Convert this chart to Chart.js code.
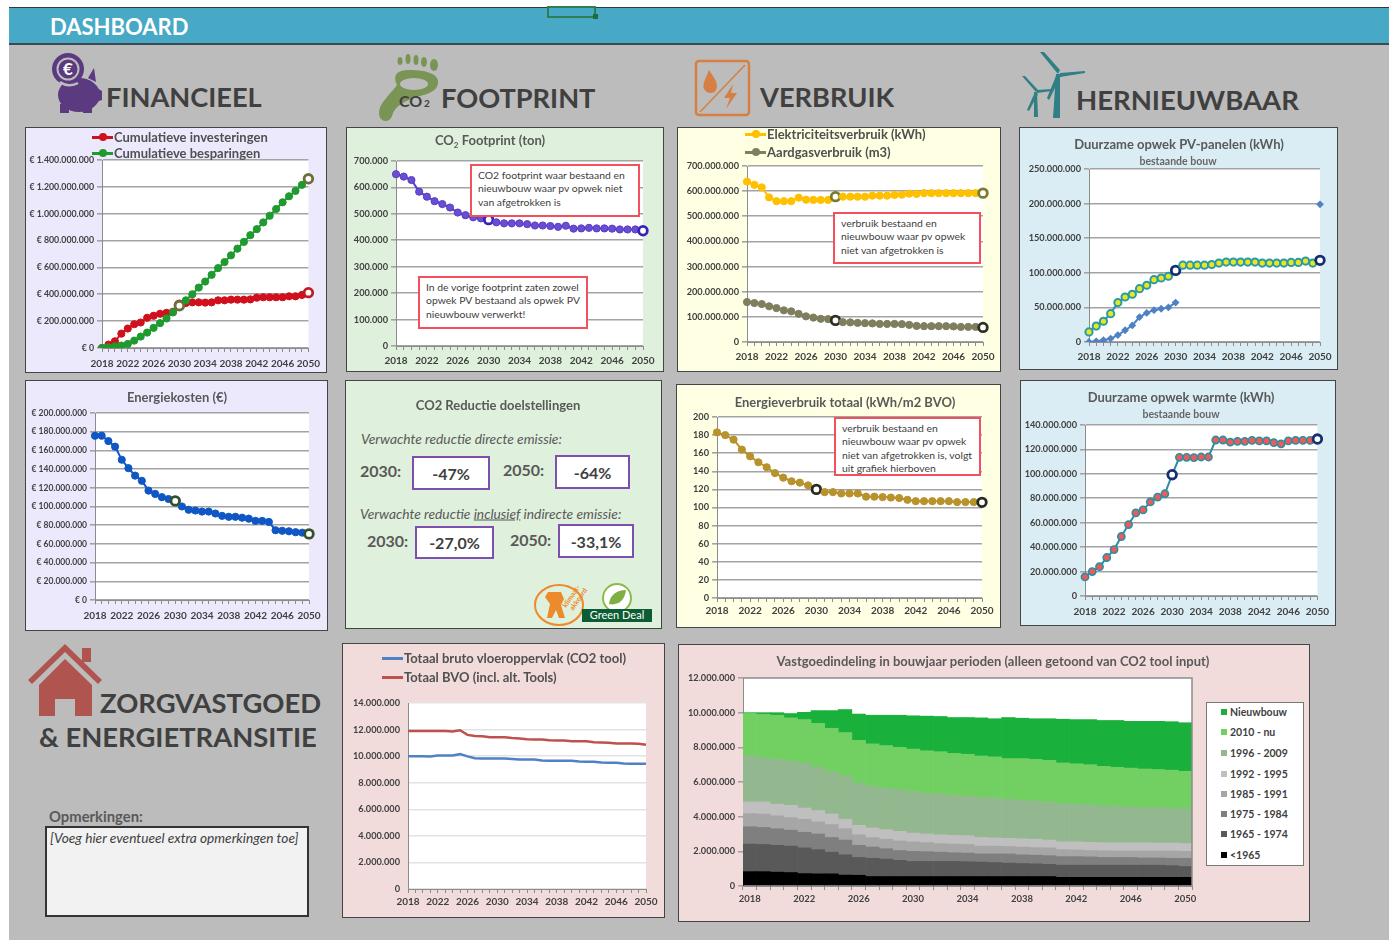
<!DOCTYPE html>
<html lang="nl">
<head>
<meta charset="utf-8">
<title>Dashboard</title>
<script src="https://cdn.jsdelivr.net/npm/chart.js@4"></script>
<style>
  html, body { margin: 0; padding: 0; background: #fff; }
  body { width: 1389px; height: 940px; overflow: hidden; font-family: Lato, "Open Sans", sans-serif; }
  #page { position: absolute; left: 0; top: 0; width: 1389px; height: 940px; filter: blur(0.7px); }
  #sheet { position: absolute; left: 9px; top: 7px; width: 1380px; height: 933px; background: #bcbcbc; }
  #bar { position: absolute; left: 9px; top: 7px; width: 1380px; height: 38px; background: #47a9c5;
         border-top: 1px solid #2c3b42; border-bottom: 2px solid #3a4a50; box-sizing: border-box; }
  .panel { position: absolute; box-shadow: 0 0 0 1px #444; }
  .panel canvas { position: absolute; left: 0; top: 0; }
  .txt { position: absolute; white-space: nowrap; transform: translateY(-50%); }
  .note { position: absolute; box-sizing: border-box; background: #fff; border: 2px solid #f2505a; white-space: nowrap;
          font-size: 10.4px; line-height: 13.3px; color: #404040; padding: 3px 6px; }
  .kpi { position: absolute; box-sizing: border-box; background: #fff; border: 2.5px solid #7d4fb0;
         font-size: 16px; font-weight: 700; color: #404040; text-align: center; }
  .swatch { position: absolute; height: 3px; }
  .dot { position: absolute; border-radius: 50%; }
  svg { position: absolute; left: 0; top: 0; }
</style>
</head>
<body>
<div id="page">
  <div id="sheet"></div>
  <div id="bar"></div>
  <div style="position:absolute;left:547px;top:6px;width:49px;height:12px;border:2px solid #2f7d55;box-sizing:border-box"></div>
  <div style="position:absolute;left:593px;top:14px;width:5px;height:5px;background:#1d6b42"></div>
  <div id="reductie" class="panel" style="left:346px;top:381px;width:315px;height:247px;background:#dff0dc"></div>
  <svg width="1389" height="940" viewBox="0 0 1389 940">
    <!-- spaarvarken -->
    <g fill="#5c3a80">
      <ellipse cx="79" cy="95" rx="21" ry="17"/>
      <path d="M88 78 l6 -10 l2 14 z"/>
      <path d="M97 88 l5 3 v9 l-6 2 z"/>
      <rect x="60" y="104" width="9" height="9"/><rect x="83" y="104" width="9" height="9"/>
      <circle cx="68" cy="69" r="16"/>
    </g>
    <circle cx="68" cy="69" r="10.5" fill="none" stroke="#bcbcbc" stroke-width="2"/>
    <path d="M60 82 a16 16 0 0 0 18 1" fill="none" stroke="#bcbcbc" stroke-width="2.5"/>
    <text x="68" y="75" text-anchor="middle" font-family="Lato" font-size="17" font-weight="700" fill="#fff">€</text>
    <!-- voetafdruk -->
    <g fill="#7a9455">
      <path d="M397 85 C392 74 398 70 410 70 C424 70 440 73 438 84 C436 92 427 94 420 96 C406 100 394 106 392 116 C389 124 379 122 379 113 C379 103 389 96 397 85 Z"/>
      <ellipse cx="400" cy="61" rx="2.5" ry="4"/><ellipse cx="408" cy="59" rx="2.5" ry="5"/>
      <ellipse cx="416" cy="60" rx="2.5" ry="5"/><ellipse cx="424" cy="62" rx="3" ry="5"/><ellipse cx="434" cy="65" rx="4" ry="6"/>
    </g>
    <ellipse cx="414" cy="84" rx="14" ry="6" fill="#bcbcbc"/>
    <text x="399" y="107" font-family="Lato" font-size="16" font-weight="700" fill="#404040">CO</text>
    <text x="424" y="107" font-family="Lato" font-size="10" font-weight="700" fill="#404040">2</text>
    <!-- gas en stroom -->
    <rect x="696" y="61" width="53" height="54" rx="3" fill="none" stroke="#d67f42" stroke-width="2.5"/>
    <line x1="700" y1="112" x2="745" y2="65" stroke="#d67f42" stroke-width="1.5"/>
    <path d="M709 70 C714 78 719 83 716 90 C714 94 707 94 704 89 C702 84 706 78 709 70 Z" fill="#d67f42"/>
    <path d="M733 84 L724 98 L730 98 L726 109 L737 93 L731 93 Z" fill="#d67f42"/>
    <!-- windmolens -->
    <g fill="#2f7f85">
      <path d="M1056 74 L1060 74 L1060 118 L1053 118 Z"/>
      <path d="M1058 74 L1040 52 L1044 52 L1060 70 Z"/>
      <path d="M1060 73 L1085 71 L1085 73 L1060 77 Z"/>
      <path d="M1056 76 L1047 98 L1049 100 L1060 78 Z"/>
      <path d="M1034 92 L1037 92 L1038 117 L1034 117 Z"/>
      <path d="M1036 92 L1022 76 L1025 76 L1038 90 Z"/>
      <path d="M1037 90 L1052 89 L1052 91 L1037 93 Z"/>
      <path d="M1035 92 L1027 110 L1029 111 L1038 94 Z"/>
    </g>
    <!-- huis -->
    <g fill="#b05450">
      <path d="M28 680 L65 644 L102 680 L98 684 L65 652 L32 684 Z"/>
      <path d="M39 685 L65 659 L92 685 V716 H75 V699 H55 V716 H39 Z"/>
      <rect x="82" y="648" width="9" height="14"/>
    </g>
    <!-- klimaatakkoord en green deal -->
    <ellipse cx="559" cy="605" rx="24" ry="20" fill="none" stroke="#ec8a2d" stroke-width="2"/>
    <path d="M548 592 h13 l3 7 l-3 6 l4 13 h-6 l-3 -8 l-4 8 h-5 l3 -14 l-5 -7 z" fill="#ec8a2d"/>
    <text transform="translate(566 608) rotate(-55)" font-family="Lato" font-size="7" font-weight="700" fill="#ec8a2d">klimaat-</text>
    <text transform="translate(573 611) rotate(-55)" font-family="Lato" font-size="7" font-weight="700" fill="#ec8a2d">akkoord</text>
    <circle cx="617" cy="598" r="14" fill="#fff" stroke="#8bbb4e" stroke-width="2"/>
    <path d="M609 604 C610 594 618 590 626 590 C625 600 618 606 609 604 Z" fill="#7fae45"/>
    <rect x="582" y="609" width="70" height="13" fill="#0d5c34"/>
    <text x="617" y="619" text-anchor="middle" font-family="Lato" font-size="11" fill="#fff">Green Deal</text>
  </svg>
</div>

<script>
// Jaren op de x-as (elk jaar een streepje, elk vierde jaar een label)
var jaren = [2018,2019,2020,2021,2022,2023,2024,2025,2026,2027,2028,2029,2030,2031,2032,2033,2034,2035,2036,2037,2038,2039,2040,2041,2042,2043,2044,2045,2046,2047,2048,2049,2050];

// Financieel, in miljoen euro
var investeringen = [0,25,50,107,145,177,190,225,240,255,262,270,318,335,340,340,338,340,355,355,360,360,360,362,375,378,378,378,378,385,385,395,412];
var besparingen = [0,5,12,18,30,55,85,115,150,185,220,265,315,355,400,450,495,545,595,640,690,740,790,840,885,935,985,1035,1085,1130,1170,1215,1260];
var energiekosten = [175.7,175.7,170,164,150,141,133,127.5,117,113.5,110,108,106,100,96.5,95.7,94.6,94.6,92.5,90,89,89,88,87,84.6,84.6,83.5,74.6,74,73.5,72.5,72,70.7];

// CO2 footprint, in duizend ton
var footprint = [650,641,628,584,565,548,537,524,505,495,487,483,478,468,464,464,464,461,456,456,454,451,455,444,445,447,445,445,444,441,441,441,436];

// Verbruik, in miljoen
var elektriciteit = [638,625,615,575,560,560,560,574,566,565,565,565,578,578,578,578,578,582,582,582,585,586,590,589,592,592,592,592,592,592,592,592,592];
var aardgas = [159,155,151,142,135,126,122,112,102,97,92,91,86,79,78,76,75,74,72,72,72,71,68,64,63,63,63,63,62,60,60,60,58];
var verbruikTotaal = [183,180,175,164,156.5,150,144.5,138,133,129,127.5,124.5,120,117,117,115.5,115.5,115.5,112,112,111.5,111,110.5,108.5,107,107,107,107,107,106,106,106,105.7];

// Hernieuwbaar, in miljoen kWh
var opwekPV = [14.5,23,30,41,57,65,69,77,82,90,92.5,95,103.5,111,111,111,111,112,114,115.5,115.5,115.5,115.5,115.5,114,114,114,114,115,115,117,114,118];
var opwekPVbestaand = [0,1,2.5,5,10,17,24,36,42,46,48,50,57,null,null,null,null,null,null,null,null,null,null,null,null,null,null,null,null,null,null,null,199];
var opwekWarmte = [15.6,20,24,31.5,38,48.7,58.5,68,70.5,77,81,83.7,99.3,113.5,113.5,113.3,113.8,113.8,127.7,127.7,126,126.6,126.6,127.4,127,127,125.5,124.5,127,127.4,127.4,127.4,128.5];

// Vloeroppervlak, in miljoen m2
var bruto = [10,10,10,9.97,10.05,10.05,10.05,10.15,9.98,9.85,9.82,9.82,9.82,9.82,9.78,9.74,9.74,9.74,9.68,9.66,9.66,9.66,9.66,9.6,9.58,9.58,9.52,9.5,9.5,9.44,9.42,9.42,9.42];
var bvoTotaal = [11.9,11.9,11.9,11.9,11.9,11.9,11.85,11.95,11.6,11.52,11.5,11.42,11.42,11.42,11.36,11.33,11.27,11.25,11.25,11.2,11.18,11.18,11.13,11.12,11.12,11.05,11.02,11,10.95,10.95,10.95,10.93,10.85];

// Bouwjaar perioden, in miljoen m2, van onder naar boven
var voor1965 = [0.83,0.83,0.8,0.78,0.72,0.7,0.7,0.63,0.62,0.55,0.55,0.55,0.55,0.55,0.55,0.55,0.55,0.55,0.55,0.55,0.55,0.55,0.55,0.5,0.5,0.5,0.5,0.5,0.5,0.5,0.5,0.5,0.5];
var p1965 = [1.59,1.57,1.55,1.52,1.48,1.4,1.25,1.17,1.03,1.05,1,0.93,0.87,0.87,0.87,0.87,0.85,0.83,0.81,0.77,0.75,0.73,0.7,0.7,0.7,0.7,0.7,0.7,0.7,0.7,0.7,0.68,0.63];
var p1975 = [1,0.98,0.95,0.92,0.9,0.9,0.85,0.85,0.7,0.65,0.6,0.57,0.58,0.56,0.53,0.5,0.5,0.47,0.49,0.53,0.5,0.5,0.5,0.5,0.5,0.48,0.45,0.45,0.45,0.42,0.42,0.42,0.47];
var p1985 = [0.76,0.77,0.75,0.73,0.75,0.7,0.75,0.65,0.6,0.55,0.55,0.55,0.55,0.52,0.5,0.5,0.5,0.45,0.45,0.43,0.45,0.44,0.45,0.4,0.38,0.37,0.38,0.37,0.37,0.4,0.4,0.42,0.4];
var p1992 = [0.67,0.7,0.67,0.7,0.65,0.65,0.6,0.55,0.55,0.55,0.55,0.55,0.5,0.5,0.5,0.5,0.5,0.5,0.48,0.47,0.47,0.48,0.45,0.45,0.47,0.47,0.47,0.48,0.48,0.48,0.46,0.46,0.45];
var p1996 = [2.65,2.55,2.58,2.57,2.6,2.5,2.45,2.5,2.45,2.4,2.4,2.4,2.4,2.35,2.35,2.3,2.3,2.32,2.27,2.25,2.23,2.2,2.17,2.2,2.17,2.16,2.12,2.08,2.05,2.02,2.04,2.02,2];
var p2010 = [2.45,2.5,2.55,2.48,2.5,2.53,2.5,2.5,2.45,2.45,2.45,2.45,2.45,2.45,2.45,2.43,2.4,2.38,2.4,2.35,2.4,2.4,2.43,2.35,2.33,2.32,2.28,2.27,2.25,2.23,2.2,2.18,2.17];
var nieuwbouw = [0.05,0.1,0.15,0.25,0.42,0.74,1.02,1.33,1.52,1.65,1.75,1.85,1.92,2,2.03,2.07,2.12,2.2,2.2,2.37,2.33,2.35,2.4,2.52,2.55,2.6,2.65,2.7,2.7,2.75,2.78,2.8,2.8];

var periodeNamen = ['<1965','1965 - 1974','1975 - 1984','1985 - 1991','1992 - 1995','1996 - 2009','2010 - nu','Nieuwbouw'];
var periodeKleuren = ['#000000','#595959','#7f7f7f','#a6a6a6','#bfbfbf','#93b88f','#72d062','#1ab03c'];
var periodeData = [voor1965,p1965,p1975,p1985,p1992,p1996,p2010,nieuwbouw];

var page = document.getElementById('page');
var TICK = '#404040';
var GRID = '#a3a3a3';

// Getal met punten als duizendtal-scheiding
function punten(n) {
  return String(Math.round(n)).replace(/\B(?=(\d{3})+$)/g, '.');
}

// Tekst, y is het midden van de regel
function tekst(s, x, y, size, color, extra) {
  var d = document.createElement('div');
  d.className = 'txt';
  d.innerHTML = s;
  d.style.cssText = 'left:' + x + 'px;top:' + y + 'px;font-size:' + size + 'px;color:' + color + ';' + (extra || '');
  page.appendChild(d);
  return d;
}

// Gecentreerde titel
function titel(s, x, y) {
  return tekst(s, x, y, 13, '#595959', 'font-weight:700;transform:translate(-50%,-50%);');
}

// Legenda-regel: lijntje met bolletje en tekst
function legendaRegel(s, x, y, color, size, metDot) {
  var l = document.createElement('div');
  l.className = 'swatch';
  l.style.cssText = 'left:' + x + 'px;top:' + (y - 1.5) + 'px;width:21px;background:' + color;
  page.appendChild(l);
  if (metDot) {
    var d = document.createElement('div');
    d.className = 'dot';
    d.style.cssText = 'left:' + (x + 7) + 'px;top:' + (y - 4) + 'px;width:8px;height:8px;background:' + color;
    page.appendChild(d);
  }
  tekst(s, x + 22, y, size, '#505050', 'font-weight:700;');
}

// Rood omkaderde notitie
function notitie(html, l, t, r, b) {
  var d = document.createElement('div');
  d.className = 'note';
  d.innerHTML = html;
  d.style.cssText = 'left:' + l + 'px;top:' + t + 'px;width:' + (r - l) + 'px;height:' + (b - t) + 'px';
  page.appendChild(d);
}

// Witte achtergrond van het plotvlak, bij de staafgrafiek ook een kader
var plotVlak = {
  id: 'plotVlak',
  beforeDraw: function(chart) {
    var a = chart.chartArea;
    chart.ctx.fillStyle = '#fff';
    chart.ctx.fillRect(a.left, a.top, a.right - a.left, a.bottom - a.top);
  },
  afterDraw: function(chart) {
    if (chart.config.type != 'bar') return;
    var a = chart.chartArea;
    chart.ctx.strokeStyle = '#8c8c8c';
    chart.ctx.lineWidth = 1.5;
    chart.ctx.beginPath();
    chart.ctx.moveTo(a.left, a.top);
    chart.ctx.lineTo(a.right, a.top);
    chart.ctx.lineTo(a.right, a.bottom);
    chart.ctx.stroke();
  }
};

function isRing(c) {
  return c.dataIndex == 12 || c.dataIndex == 32;
}

// Lijnserie, de punten van 2030 en 2050 zijn open ringen
function lijn(label, data, color, fill, ring, rand) {
  return {
    label: label,
    data: data,
    borderColor: color,
    borderWidth: 2,
    spanGaps: false,
    tension: 0,
    pointRadius: function(c) { return isRing(c) ? 4.3 : 3.6; },
    pointBorderWidth: function(c) { return isRing(c) ? 2.8 : (rand || 1); },
    pointBackgroundColor: function(c) { return isRing(c) ? '#fff' : fill; },
    pointBorderColor: function(c) { return isRing(c) ? ring : color; }
  };
}

// Grafiek in een paneel, met het plotvlak op een vaste plek
function grafiek(o) {
  var p = o.panel, a = o.plot;
  var div = document.createElement('div');
  div.className = 'panel';
  div.style.cssText = 'left:' + p[0] + 'px;top:' + p[1] + 'px;width:' + (p[2] - p[0]) + 'px;height:' + (p[3] - p[1]) + 'px;background:' + o.bg;
  var cv = document.createElement('canvas');
  cv.width = p[2] - p[0];
  cv.height = p[3] - p[1];
  cv.style.width = cv.width + 'px';
  cv.style.height = cv.height + 'px';
  div.appendChild(cv);
  page.appendChild(div);

  var isBar = o.type == 'bar';
  return new Chart(cv.getContext('2d'), {
    type: o.type || 'line',
    data: { labels: jaren, datasets: o.datasets },
    plugins: [plotVlak],
    options: {
      responsive: false,
      animation: false,
      devicePixelRatio: 1,
      layout: {
        autoPadding: false,
        padding: { left: 0, top: a[1] - p[1], right: p[2] - a[2], bottom: 0 }
      },
      plugins: { legend: { display: false }, title: { display: false }, tooltip: { enabled: false } },
      scales: {
        x: {
          stacked: isBar,
          afterFit: function(s) { s.height = p[3] - a[3]; },
          border: { color: '#8c8c8c' },
          grid: { display: true, drawOnChartArea: false, drawTicks: true, tickLength: 4, color: '#8c8c8c' },
          ticks: {
            autoSkip: false, maxRotation: 0, minRotation: 0, padding: o.xPad || 5,
            color: TICK, font: { family: 'Lato', size: o.xSize || 10, weight: '700' },
            callback: function(v, i) { return i % 4 == 0 ? this.getLabelForValue(v) : ''; }
          }
        },
        y: {
          stacked: isBar,
          min: 0, max: o.max,
          afterFit: function(s) { s.width = a[0] - p[0]; },
          border: { color: '#8c8c8c' },
          grid: { display: true, drawOnChartArea: !isBar, drawTicks: true, tickLength: 5, color: o.grid || GRID, lineWidth: o.gridW || 1.6 },
          ticks: {
            stepSize: o.step, padding: 3,
            color: TICK, font: { family: 'Lato', size: o.ySize || 9.2, weight: '700' },
            callback: function(v) { return (o.prefix || '') + punten(v * (o.unit || 1)); }
          }
        }
      }
    }
  });
}

// Koppen
tekst('DASHBOARD', 50, 26, 22, '#fff', 'font-weight:700;');
tekst('FINANCIEEL', 106, 96, 27.2, '#404040', 'font-weight:700;');
tekst('FOOTPRINT', 441, 97, 27.2, '#404040', 'font-weight:700;');
tekst('VERBRUIK', 760, 96, 27.2, '#404040', 'font-weight:700;');
tekst('HERNIEUWBAAR', 1076, 99, 27.5, '#404040', 'font-weight:700;');
tekst('ZORGVASTGOED', 100, 702, 27.4, '#404040', 'font-weight:700;');
tekst('&amp; ENERGIETRANSITIE', 39, 736, 27.4, '#404040', 'font-weight:700;');

// Financieel
grafiek({
  panel: [26,128,326,372], plot: [102,160,310,348], bg: '#ece9fd',
  max: 1400, step: 200, unit: 1e6, prefix: '€ ', ySize: 8.8, xPad: 6,
  datasets: [
    lijn('Cumulatieve besparingen', besparingen, '#1f9a2e', '#1f9a2e', '#6e6e3a'),
    lijn('Cumulatieve investeringen', investeringen, '#d0101c', '#d0101c', '#c21a20')
  ]
});
legendaRegel('Cumulatieve investeringen', 92, 137, '#d0101c', 13, true);
legendaRegel('Cumulatieve besparingen', 92, 153, '#1f9a2e', 13, true);

// CO2 footprint
grafiek({
  panel: [347,128,663,371], plot: [396,161,643,346], bg: '#dff0dc',
  max: 700, step: 100, unit: 1e3,
  datasets: [lijn('CO2 Footprint (ton)', footprint, '#5a3dc8', '#6a4dd0', '#3a22b8')]
});
titel('CO<sub style="font-size:8px">2</sub> Footprint (ton)', 490, 141);
notitie('CO2 footprint waar bestaand en<br>nieuwbouw waar pv opwek niet<br>van afgetrokken is', 470, 164, 640, 217);
notitie('In de vorige footprint zaten zowel<br>opwek PV bestaand als opwek PV<br>nieuwbouw verwerkt!', 418, 276, 588, 329);

// Verbruik
grafiek({
  panel: [678,128,1000,371], plot: [747,166,983,342], bg: '#ffffe3',
  max: 700, step: 100, unit: 1e6,
  datasets: [
    lijn('Elektriciteitsverbruik (kWh)', elektriciteit, '#ffc000', '#ffc000', '#7b7b2e'),
    lijn('Aardgasverbruik (m3)', aardgas, '#7f7f5f', '#7f7f5f', '#2f2f25')
  ]
});
legendaRegel('Elektriciteitsverbruik (kWh)', 745, 134, '#ffc000', 13, true);
legendaRegel('Aardgasverbruik (m3)', 745, 152, '#7f7f5f', 13, true);
notitie('verbruik bestaand en<br>nieuwbouw waar pv opwek<br>niet van afgetrokken is', 833, 212, 981, 264);

// Hernieuwbaar PV
var reeksPV = lijn('Opwek PV', opwekPV, '#2a9aa8', '#e8e620', '#14306e', 2);
var reeksPVb = {
  label: 'Opwek PV bestaand', data: opwekPVbestaand, borderColor: '#4f81c4', borderWidth: 2,
  pointStyle: 'rectRot', pointRadius: 2.5, pointBackgroundColor: '#4f81c4', pointBorderColor: '#4f81c4'
};
grafiek({
  panel: [1020,128,1337,369], plot: [1089,169,1320,342], bg: '#daedf4',
  max: 250, step: 50, unit: 1e6,
  datasets: [reeksPV, reeksPVb]
});
titel('Duurzame opwek PV-panelen (kWh)', 1179, 144);
tekst('bestaande bouw', 1178, 161, 10.5, '#666', 'font-weight:700;transform:translate(-50%,-50%);');

// Energiekosten
grafiek({
  panel: [26,381,327,630], plot: [95,413,309,600], bg: '#ece9fd',
  max: 200, step: 20, unit: 1e6, prefix: '€ ', ySize: 8.5, xPad: 6,
  datasets: [lijn('Energiekosten', energiekosten, '#0f57c4', '#0f57c4', '#33502e')]
});
titel('Energiekosten (€)', 177, 397);

// CO2 reductie, alleen tekst en logo's
function kpi(s, l, t, r, b) {
  var d = document.createElement('div');
  d.className = 'kpi';
  d.textContent = s;
  d.style.cssText = 'left:' + l + 'px;top:' + t + 'px;width:' + (r - l) + 'px;height:' + (b - t) + 'px;line-height:' + (b - t - 3) + 'px';
  page.appendChild(d);
}
titel('CO2 Reductie doelstellingen', 498, 405);
tekst('Verwachte reductie directe emissie:', 361, 438, 13.8, '#595959', 'font-style:italic;');
tekst('2030:', 360, 470, 16, '#595959', 'font-weight:700;');
kpi('-47%', 412, 456, 490, 490);
tekst('2050:', 503, 469, 16, '#595959', 'font-weight:700;');
kpi('-64%', 555, 455, 630, 489);
tekst('Verwachte reductie <u>inclusief</u> indirecte emissie:', 360, 513, 13.8, '#595959', 'font-style:italic;');
tekst('2030:', 367, 540, 16, '#595959', 'font-weight:700;');
kpi('-27,0%', 415, 526, 494, 559);
tekst('2050:', 510, 539, 16, '#595959', 'font-weight:700;');
kpi('-33,1%', 558, 524, 634, 558);

// Energieverbruik totaal
grafiek({
  panel: [677,385,1000,627], plot: [717,417,982,598], bg: '#ffffe3',
  max: 200, step: 20, unit: 1, xPad: 3,
  datasets: [lijn('Energieverbruik', verbruikTotaal, '#b8922a', '#b8922a', '#2a2a20')]
});
titel('Energieverbruik totaal (kWh/m2 BVO)', 845, 402);
notitie('verbruik bestaand en<br>nieuwbouw waar pv opwek<br>niet van afgetrokken is, volgt<br>uit grafiek hierboven', 834, 417, 981, 476);

// Duurzame warmte
grafiek({
  panel: [1021,381,1335,625], plot: [1085,425,1318,596], bg: '#daedf4',
  max: 140, step: 20, unit: 1e6, xPad: 6,
  datasets: [lijn('Opwek warmte', opwekWarmte, '#2a8fa0', '#ee5a5a', '#14306e', 1.6)]
});
titel('Duurzame opwek warmte (kWh)', 1181, 397);
tekst('bestaande bouw', 1181, 414, 10.5, '#666', 'font-weight:700;transform:translate(-50%,-50%);');

// BVO
function bvoLijn(label, data, color) {
  return { label: label, data: data, borderColor: color, borderWidth: 2.5, pointRadius: 0, tension: 0 };
}
grafiek({
  panel: [343,644,664,917], plot: [408,703,646,889], bg: '#f2dcdb',
  max: 14, step: 2, unit: 1e6, grid: '#e3e3e3', gridW: 1.5, xPad: 3,
  datasets: [bvoLijn('Totaal bruto vloeroppervlak (CO2 tool)', bruto, '#4f81c4'), bvoLijn('Totaal BVO (incl. alt. Tools)', bvoTotaal, '#c0504d')]
});
legendaRegel('Totaal bruto vloeroppervlak (CO2 tool)', 382, 658, '#4f81c4', 13);
legendaRegel('Totaal BVO (incl. alt. Tools)', 382, 677, '#c0504d', 13);

// Vastgoed per bouwjaar
var stapels = periodeData.map(function(d, i) {
  return { label: periodeNamen[i], data: d, backgroundColor: periodeKleuren[i], barPercentage: 1, categoryPercentage: 1, borderWidth: 0 };
});
grafiek({
  panel: [679,645,1309,921], plot: [743,678,1192,886], bg: '#f2dcdb', type: 'bar',
  max: 12, step: 2, unit: 1e6, xSize: 9.5, xPad: 3,
  datasets: stapels
});
titel('Vastgoedindeling in bouwjaar perioden (alleen getoond van CO2 tool input)', 993, 661);

var legKader = document.createElement('div');
legKader.style.cssText = 'position:absolute;left:1206px;top:702px;width:98px;height:164px;background:#fff;border:1px solid #777;box-sizing:border-box';
page.appendChild(legKader);
var legY = [855,834,814,794,774,753,732,712];
periodeNamen.forEach(function(n, i) {
  var sq = document.createElement('div');
  sq.style.cssText = 'position:absolute;left:1221px;width:6px;height:6px;top:' + (legY[i] - 3) + 'px;background:' + periodeKleuren[i];
  page.appendChild(sq);
  tekst(n.replace('<', '&lt;'), 1230, legY[i], 10.5, '#404040', 'font-weight:700;');
});

// Opmerkingen
tekst('Opmerkingen:', 49, 816, 14.8, '#595959', 'font-weight:700;');
var opm = document.createElement('div');
opm.style.cssText = 'position:absolute;left:45px;top:826px;width:264px;height:91px;box-sizing:border-box;background:#f2f2f2;border:2px solid #333;padding:1px 3px;font-size:13.7px;font-style:italic;color:#404040;white-space:nowrap';
opm.textContent = '[Voeg hier eventueel extra opmerkingen toe]';
page.appendChild(opm);
</script>
</body>
</html>
